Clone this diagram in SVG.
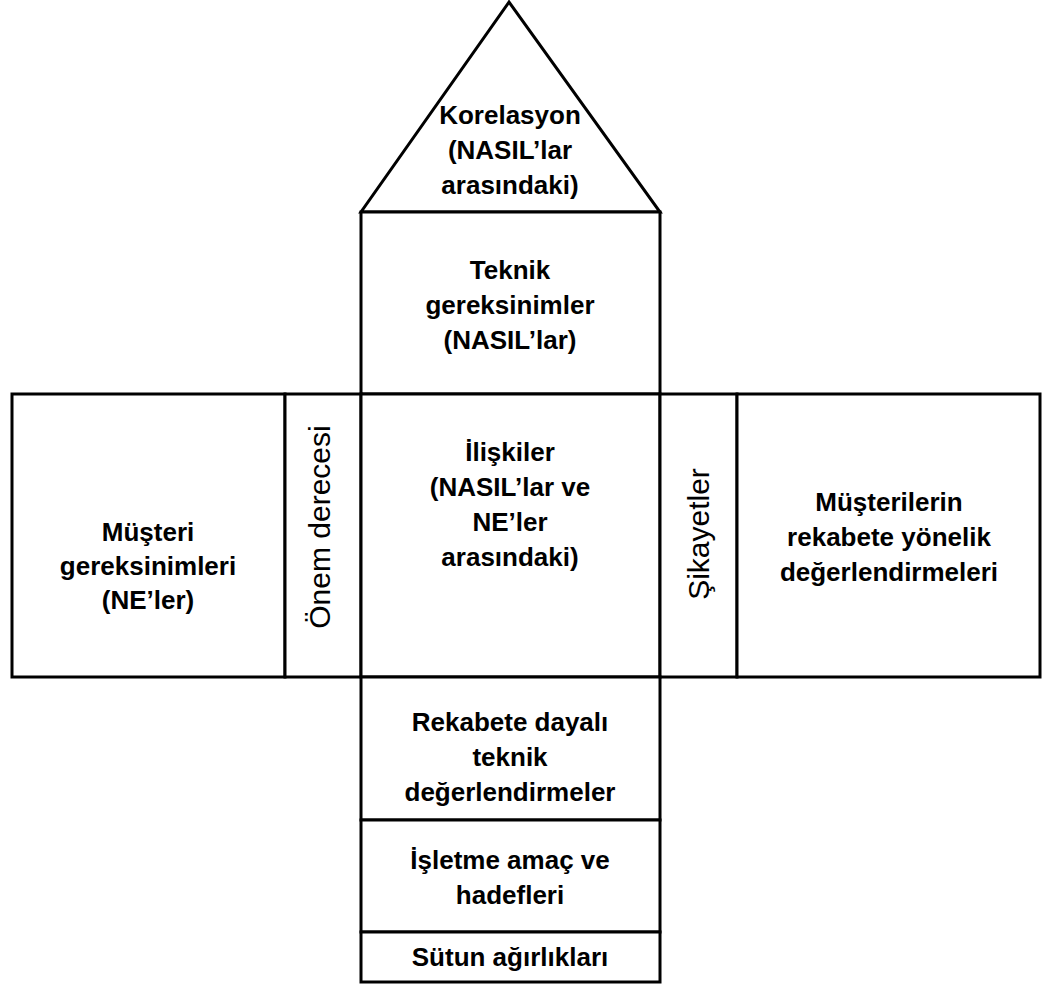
<svg xmlns="http://www.w3.org/2000/svg" width="1043" height="987" viewBox="0 0 1043 987">
  <style>
    .frame { fill: #ffffff; stroke: #000000; stroke-width: 3; }
    .lbl { font-family: "Liberation Sans", Arial, sans-serif; font-weight: bold; font-size: 26px; fill: #000000; text-anchor: middle; }
    .vlbl { font-family: "Liberation Sans", Arial, sans-serif; font-weight: normal; font-size: 30px; fill: #000000; text-anchor: middle; }
  </style>
  <rect width="1043" height="987" fill="#ffffff"/>

  <!-- roof: correlation triangle -->
  <g id="roof">
    <polygon class="frame" points="509,2 361,212 660,212"/>
    <text class="lbl" x="510" y="124">Korelasyon</text>
    <text class="lbl" x="510" y="159">(NASIL’lar</text>
    <text class="lbl" x="510" y="194">arasındaki)</text>
  </g>

  <!-- technical requirements -->
  <g id="hows">
    <rect class="frame" x="361" y="212" width="299" height="182"/>
    <text class="lbl" x="510" y="279">Teknik</text>
    <text class="lbl" x="510" y="314">gereksinimler</text>
    <text class="lbl" x="510" y="349">(NASIL’lar)</text>
  </g>

  <!-- customer requirements -->
  <g id="whats">
    <rect class="frame" x="12" y="394" width="273" height="283"/>
    <text class="lbl" x="148" y="541">Müşteri</text>
    <text class="lbl" x="148" y="575">gereksinimleri</text>
    <text class="lbl" x="148" y="609">(NE’ler)</text>
  </g>

  <!-- importance rating -->
  <g id="importance">
    <rect class="frame" x="285" y="394" width="76" height="283"/>
    <text class="vlbl" transform="translate(330,527) rotate(-90)" x="0" y="0">Önem derecesi</text>
  </g>

  <!-- relationship matrix -->
  <g id="relationships">
    <rect class="frame" x="361" y="394" width="299" height="283"/>
    <text class="lbl" x="510" y="461">İlişkiler</text>
    <text class="lbl" x="510" y="496">(NASIL’lar ve</text>
    <text class="lbl" x="510" y="531">NE’ler</text>
    <text class="lbl" x="510" y="566">arasındaki)</text>
  </g>

  <!-- complaints -->
  <g id="complaints">
    <rect class="frame" x="660" y="394" width="77" height="283"/>
    <text class="vlbl" transform="translate(709,534) rotate(-90)" x="0" y="0">Şikayetler</text>
  </g>

  <!-- competitive assessment by customers -->
  <g id="customer-assessment">
    <rect class="frame" x="737" y="394" width="303" height="283"/>
    <text class="lbl" x="889" y="511">Müşterilerin</text>
    <text class="lbl" x="889" y="546">rekabete yönelik</text>
    <text class="lbl" x="889" y="581">değerlendirmeleri</text>
  </g>

  <!-- technical competitive assessment -->
  <g id="technical-assessment">
    <rect class="frame" x="361" y="677" width="299" height="143"/>
    <text class="lbl" x="510" y="731">Rekabete dayalı</text>
    <text class="lbl" x="510" y="766">teknik</text>
    <text class="lbl" x="510" y="801">değerlendirmeler</text>
  </g>

  <!-- business goals -->
  <g id="goals">
    <rect class="frame" x="361" y="820" width="299" height="112"/>
    <text class="lbl" x="510" y="869">İşletme amaç ve</text>
    <text class="lbl" x="510" y="904">hadefleri</text>
  </g>

  <!-- column weights -->
  <g id="weights">
    <rect class="frame" x="361" y="932" width="299" height="50"/>
    <text class="lbl" x="510" y="966">Sütun ağırlıkları</text>
  </g>

  <g id="connectors"></g>
</svg>
